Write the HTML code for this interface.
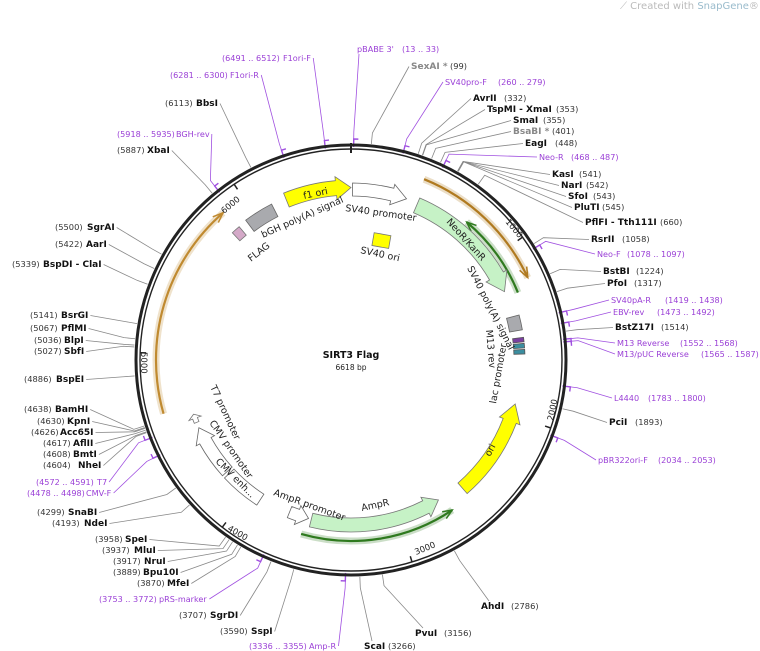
<!DOCTYPE html>
<html><head><meta charset="utf-8"><style>
html,body{margin:0;padding:0;background:#fff;}
svg{display:block;font-family:"DejaVu Sans","Liberation Sans",sans-serif;}
.n{font-weight:bold;font-size:9px;fill:#111;}
.g{font-weight:bold;font-size:9px;fill:#888;}
.c{font-size:8.3px;fill:#333;}
.p{font-size:8.1px;fill:#9a3fd6;}
.f{font-size:9.5px;fill:#222;}
.t{font-size:8.5px;fill:#222;}
</style></head><body>
<svg id="s" width="760" height="651" viewBox="0 0 760 651" xmlns="http://www.w3.org/2000/svg">
<g id="lines"></g>
<g id="feat"></g>
<circle cx="351" cy="360" r="215" fill="none" stroke="#222" stroke-width="3"/>
<circle cx="351" cy="360" r="211" fill="none" stroke="#222" stroke-width="1.4"/>
<line x1="351" y1="143" x2="351" y2="153" stroke="#222" stroke-width="2"/>
<g id="ticks"></g>

<text x="620" y="9" style="font-size:10px;fill:#bbb">⟋ Created with <tspan fill="#9bc">SnapGene</tspan>®</text>

<text x="351" y="358" text-anchor="middle" style="font-size:9.5px;font-weight:bold;fill:#111">SIRT3 Flag</text>
<text x="351" y="370" text-anchor="middle" style="font-size:7.5px;fill:#222">6618 bp</text>

<text class="t" transform="translate(224,214) rotate(-40)">6000</text>
<text class="t" transform="translate(505,222) rotate(50)">1000</text>
<text class="t" transform="translate(141,352) rotate(90)">5000</text>
<text class="t" transform="translate(553,421) rotate(-78)">2000</text>
<text class="t" transform="translate(416,555) rotate(-22)">3000</text>
<text class="t" transform="translate(227,530) rotate(30)">4000</text>

<text class="f" transform="translate(304,199) rotate(-12)">f1 ori</text>
<text class="f" transform="translate(345,211) rotate(8)">SV40 promoter</text>
<text class="f" transform="translate(263,238) rotate(-24)">bGH poly(A) signal</text>
<text class="f" transform="translate(251,262) rotate(-38)">FLAG</text>
<text class="f" transform="translate(360,253) rotate(12)">SV40 ori</text>
<text class="f" transform="translate(446,222) rotate(48)">NeoR/KanR</text>
<text class="f" transform="translate(467,268) rotate(63)">SV40 poly(A) signal</text>
<text class="f" transform="translate(486,330) rotate(85)">M13 rev</text>
<text class="f" transform="translate(496,404) rotate(-80)">lac promoter</text>
<text class="f" transform="translate(490,457) rotate(-62)">ori</text>
<text class="f" transform="translate(210,387) rotate(65)">T7 promoter</text>
<text class="f" transform="translate(209,423) rotate(55)">CMV promoter</text>
<text class="f" transform="translate(215,462) rotate(45)">CMV enh...</text>
<text class="f" transform="translate(273,495) rotate(20)">AmpR promoter</text>
<text class="f" transform="translate(362,511) rotate(-12)">AmpR</text>

<g id="labels">
<text class="L" bp="6491" s="l"><tspan class="p" x="222" y="61">(6491 .. 6512)</tspan><tspan class="p" x="283" y="61">F1ori-F</tspan></text>
<text class="L" bp="13" s="t"><tspan class="p" x="357" y="52">pBABE 3'</tspan><tspan class="p" x="402" y="52">(13 .. 33)</tspan></text>
<text class="L" bp="99" s="r"><tspan class="g" x="411" y="69">SexAI *</tspan><tspan class="c" x="450" y="69">(99)</tspan></text>
<text class="L" bp="260" s="r"><tspan class="p" x="445" y="85">SV40pro-F</tspan><tspan class="p" x="498" y="85">(260 .. 279)</tspan></text>
<text class="L" bp="6281" s="l"><tspan class="p" x="170" y="78">(6281 .. 6300)</tspan><tspan class="p" x="230" y="78">F1ori-R</tspan></text>
<text class="L" bp="6113" s="l"><tspan class="c" x="165" y="106">(6113)</tspan><tspan class="n" x="196" y="106">BbsI</tspan></text>
<text class="L" bp="332" s="r"><tspan class="n" x="473" y="101">AvrII</tspan><tspan class="c" x="504" y="101">(332)</tspan></text>
<text class="L" bp="353" s="r"><tspan class="n" x="487" y="112">TspMI - XmaI</tspan><tspan class="c" x="556" y="112">(353)</tspan></text>
<text class="L" bp="355" s="r"><tspan class="n" x="513" y="123">SmaI</tspan><tspan class="c" x="543" y="123">(355)</tspan></text>
<text class="L" bp="401" s="r"><tspan class="g" x="513" y="134">BsaBI *</tspan><tspan class="c" x="552" y="134">(401)</tspan></text>
<text class="L" bp="448" s="r"><tspan class="n" x="525" y="146">EagI</tspan><tspan class="c" x="555" y="146">(448)</tspan></text>
<text class="L" bp="5918" s="l"><tspan class="p" x="117" y="137">(5918 .. 5935)</tspan><tspan class="p" x="176" y="137">BGH-rev</tspan></text>
<text class="L" bp="5887" s="l"><tspan class="c" x="117" y="153">(5887)</tspan><tspan class="n" x="147" y="153">XbaI</tspan></text>
<text class="L" bp="468" s="r"><tspan class="p" x="539" y="160">Neo-R</tspan><tspan class="p" x="571" y="160">(468 .. 487)</tspan></text>
<text class="L" bp="541" s="r"><tspan class="n" x="552" y="177">KasI</tspan><tspan class="c" x="579" y="177">(541)</tspan></text>
<text class="L" bp="542" s="r"><tspan class="n" x="561" y="188">NarI</tspan><tspan class="c" x="586" y="188">(542)</tspan></text>
<text class="L" bp="543" s="r"><tspan class="n" x="568" y="199">SfoI</tspan><tspan class="c" x="593" y="199">(543)</tspan></text>
<text class="L" bp="545" s="r"><tspan class="n" x="574" y="210">PluTI</tspan><tspan class="c" x="602" y="210">(545)</tspan></text>
<text class="L" bp="660" s="r"><tspan class="n" x="585" y="225">PflFI - Tth111I</tspan><tspan class="c" x="660" y="225">(660)</tspan></text>
<text class="L" bp="1058" s="r"><tspan class="n" x="591" y="242">RsrII</tspan><tspan class="c" x="622" y="242">(1058)</tspan></text>
<text class="L" bp="1078" s="r"><tspan class="p" x="597" y="257">Neo-F</tspan><tspan class="p" x="627" y="257">(1078 .. 1097)</tspan></text>
<text class="L" bp="1224" s="r"><tspan class="n" x="603" y="274">BstBI</tspan><tspan class="c" x="636" y="274">(1224)</tspan></text>
<text class="L" bp="1317" s="r"><tspan class="n" x="607" y="286">PfoI</tspan><tspan class="c" x="634" y="286">(1317)</tspan></text>
<text class="L" bp="1419" s="r"><tspan class="p" x="611" y="303">SV40pA-R</tspan><tspan class="p" x="665" y="303">(1419 .. 1438)</tspan></text>
<text class="L" bp="1473" s="r"><tspan class="p" x="613" y="315">EBV-rev</tspan><tspan class="p" x="657" y="315">(1473 .. 1492)</tspan></text>
<text class="L" bp="1514" s="r"><tspan class="n" x="615" y="330">BstZ17I</tspan><tspan class="c" x="661" y="330">(1514)</tspan></text>
<text class="L" bp="1552" s="r"><tspan class="p" x="617" y="346">M13 Reverse</tspan><tspan class="p" x="680" y="346">(1552 .. 1568)</tspan></text>
<text class="L" bp="1565" s="r"><tspan class="p" x="617" y="357">M13/pUC Reverse</tspan><tspan class="p" x="701" y="357">(1565 .. 1587)</tspan></text>
<text class="L" bp="1783" s="r"><tspan class="p" x="614" y="401">L4440</tspan><tspan class="p" x="648" y="401">(1783 .. 1800)</tspan></text>
<text class="L" bp="1893" s="r"><tspan class="n" x="609" y="425">PciI</tspan><tspan class="c" x="635" y="425">(1893)</tspan></text>
<text class="L" bp="2034" s="r"><tspan class="p" x="598" y="463">pBR322ori-F</tspan><tspan class="p" x="658" y="463">(2034 .. 2053)</tspan></text>

<text class="L" bp="5500" s="l"><tspan class="c" x="55" y="230">(5500)</tspan><tspan class="n" x="87" y="230">SgrAI</tspan></text>
<text class="L" bp="5422" s="l"><tspan class="c" x="55" y="247">(5422)</tspan><tspan class="n" x="86" y="247">AarI</tspan></text>
<text class="L" bp="5339" s="l"><tspan class="c" x="12" y="267">(5339)</tspan><tspan class="n" x="43" y="267">BspDI - ClaI</tspan></text>
<text class="L" bp="5141" s="l"><tspan class="c" x="30" y="318">(5141)</tspan><tspan class="n" x="61" y="318">BsrGI</tspan></text>
<text class="L" bp="5067" s="l"><tspan class="c" x="30" y="331">(5067)</tspan><tspan class="n" x="61" y="331">PflMI</tspan></text>
<text class="L" bp="5036" s="l"><tspan class="c" x="34" y="343">(5036)</tspan><tspan class="n" x="64" y="343">BlpI</tspan></text>
<text class="L" bp="5027" s="l"><tspan class="c" x="34" y="354">(5027)</tspan><tspan class="n" x="64" y="354">SbfI</tspan></text>
<text class="L" bp="4886" s="l"><tspan class="c" x="24" y="382">(4886)</tspan><tspan class="n" x="56" y="382">BspEI</tspan></text>
<text class="L" bp="4638" s="l"><tspan class="c" x="24" y="412">(4638)</tspan><tspan class="n" x="55" y="412">BamHI</tspan></text>
<text class="L" bp="4630" s="l"><tspan class="c" x="37" y="424">(4630)</tspan><tspan class="n" x="67" y="424">KpnI</tspan></text>
<text class="L" bp="4626" s="l"><tspan class="c" x="31" y="435">(4626)</tspan><tspan class="n" x="60" y="435">Acc65I</tspan></text>
<text class="L" bp="4617" s="l"><tspan class="c" x="43" y="446">(4617)</tspan><tspan class="n" x="73" y="446">AflII</tspan></text>
<text class="L" bp="4608" s="l"><tspan class="c" x="43" y="457">(4608)</tspan><tspan class="n" x="73" y="457">BmtI</tspan></text>
<text class="L" bp="4604" s="l"><tspan class="c" x="43" y="468">(4604)</tspan><tspan class="n" x="78" y="468">NheI</tspan></text>
<text class="L" bp="4572" s="l"><tspan class="p" x="36" y="485">(4572 .. 4591)</tspan><tspan class="p" x="97" y="485">T7</tspan></text>
<text class="L" bp="4478" s="l"><tspan class="p" x="27" y="496">(4478 .. 4498)</tspan><tspan class="p" x="86" y="496">CMV-F</tspan></text>
<text class="L" bp="4299" s="l"><tspan class="c" x="37" y="515">(4299)</tspan><tspan class="n" x="68" y="515">SnaBI</tspan></text>
<text class="L" bp="4193" s="l"><tspan class="c" x="52" y="526">(4193)</tspan><tspan class="n" x="84" y="526">NdeI</tspan></text>
<text class="L" bp="3958" s="l"><tspan class="c" x="95" y="542">(3958)</tspan><tspan class="n" x="125" y="542">SpeI</tspan></text>
<text class="L" bp="3937" s="l"><tspan class="c" x="102" y="553">(3937)</tspan><tspan class="n" x="134" y="553">MluI</tspan></text>
<text class="L" bp="3917" s="l"><tspan class="c" x="113" y="564">(3917)</tspan><tspan class="n" x="144" y="564">NruI</tspan></text>
<text class="L" bp="3889" s="l"><tspan class="c" x="113" y="575">(3889)</tspan><tspan class="n" x="143" y="575">Bpu10I</tspan></text>
<text class="L" bp="3870" s="l"><tspan class="c" x="137" y="586">(3870)</tspan><tspan class="n" x="167" y="586">MfeI</tspan></text>
<text class="L" bp="3753" s="l"><tspan class="p" x="99" y="602">(3753 .. 3772)</tspan><tspan class="p" x="159" y="602">pRS-marker</tspan></text>
<text class="L" bp="3707" s="l"><tspan class="c" x="179" y="618">(3707)</tspan><tspan class="n" x="210" y="618">SgrDI</tspan></text>
<text class="L" bp="3590" s="l"><tspan class="c" x="220" y="634">(3590)</tspan><tspan class="n" x="251" y="634">SspI</tspan></text>
<text class="L" bp="3336" s="l"><tspan class="p" x="249" y="649">(3336 .. 3355)</tspan><tspan class="p" x="309" y="649">Amp-R</tspan></text>
<text class="L" bp="3266" s="b"><tspan class="n" x="364" y="649">ScaI</tspan><tspan class="c" x="388" y="649">(3266)</tspan></text>
<text class="L" bp="3156" s="b"><tspan class="n" x="415" y="636">PvuI</tspan><tspan class="c" x="444" y="636">(3156)</tspan></text>
<text class="L" bp="2786" s="b"><tspan class="n" x="481" y="609">AhdI</tspan><tspan class="c" x="511" y="609">(2786)</tspan></text>
</g>
</svg>
<script>
(function(){
var NS="http://www.w3.org/2000/svg",CX=351,CY=360,T=6618;
function pt(r,a){var t=a*Math.PI/180;return [CX+r*Math.sin(t),CY-r*Math.cos(t)];}
function el(g,n,at){var e=document.createElementNS(NS,n);for(var k in at)e.setAttribute(k,at[k]);g.appendChild(e);return e;}
var L=document.getElementById('lines'),F=document.getElementById('feat'),TK=document.getElementById('ticks');
[1000,2000,3000,4000,5000,6000].forEach(function(b){var a=b/T*360,p=pt(211,a),q=pt(205,a);el(TK,'line',{x1:p[0],y1:p[1],x2:q[0],y2:q[1],stroke:'#222','stroke-width':1.5});});
var ls=document.querySelectorAll('.L');
ls.forEach(function(t){
 var bp=+t.getAttribute('bp'),s=t.getAttribute('s'),bb=t.getBBox();
 var purple=t.querySelector('.p')!=null, col=purple?'#a050e0':'#888';
 var a=bp/T*360,p1=pt(217,a),p2=pt(228,a),ax,ay;
 if(s=='r'){ax=bb.x-2;ay=bb.y+bb.height/2;}
 else if(s=='l'){ax=bb.x+bb.width+2;ay=bb.y+bb.height/2;}
 else if(s=='t'){ax=bb.x+2;ay=bb.y+bb.height;}
 else {ax=bb.x+8;ay=bb.y;}
 el(L,'polyline',{points:p1.join(',')+' '+p2.join(',')+' '+ax+','+ay,fill:'none',stroke:col,'stroke-width':0.8});
 if(purple){var q1=pt(213,a),q2=pt(221,a),q3=pt(221,a+1.2);el(L,'polyline',{points:q1.join(',')+' '+q2.join(',')+' '+q3.join(','),fill:'none',stroke:'#a050e0','stroke-width':1.4});}
});
function arc(r,a1,a2){var p=pt(r,a1),q=pt(r,a2),lg=Math.abs(a2-a1)>180?1:0,sw=a2>a1?1:0;return 'M'+p[0]+','+p[1]+' A'+r+','+r+' 0 '+lg+' '+sw+' '+q[0]+','+q[1];}
function band(a1,a2,r1,r2,dir,head,fill,stroke){
 var d,s1=a1,s2=a2;
 if(dir==1)s2=a2-head; if(dir==-1)s1=a1+head;
 var o1=pt(r2,s1),o2=pt(r2,s2),i2=pt(r1,s2),i1=pt(r1,s1),lg=(s2-s1)>180?1:0,rm=(r1+r2)/2;
 d='M'+o1+' A'+r2+','+r2+' 0 '+lg+' 1 '+o2;
 if(dir==1){d+=' L'+pt(r2+4,s2)+' L'+pt(rm,a2)+' L'+pt(r1-4,s2);}
 d+=' L'+i2+' A'+r1+','+r1+' 0 '+lg+' 0 '+i1;
 if(dir==-1){d+=' L'+pt(r1-4,s1)+' L'+pt(rm,a1)+' L'+pt(r2+4,s1);}
 d+=' Z';
 el(F,'path',{d:d,fill:fill,stroke:stroke,'stroke-width':0.8});
}
function line(r,a1,a2,col,dir){
 el(F,'path',{d:arc(r,a1,a2),fill:'none',stroke:col,'stroke-width':7,'stroke-opacity':0.25});
 el(F,'path',{d:arc(r,a1,a2),fill:'none',stroke:col,'stroke-width':2.2});
 var a=dir==1?a2:a1,b=dir==1?a2-3:a1+3;var tip=pt(r,a),u=pt(r+4,b),v=pt(r-4,b);
 el(F,'path',{d:'M'+u+' L'+tip+' L'+v,fill:'none',stroke:col,'stroke-width':1.5});
}
line(195,22,65,'#b07a20',1);
line(195,254,319,'#c08a30',1);
line(180,40,68,'#2f7a1f',-1);
line(181,146,196,'#2f7a1f',-1);
band(23,66,160,176,1,6,'#c6f2c6','#777');
band(0.5,19,164,177,1,5,'#fff','#666');
band(338,360,165,180,1,5,'#ffff00','#777');
band(323,333,161,175,0,0,'#a9aaae','#666');
band(317,320,163,174,0,0,'#d4a9c8','#777');
band(75,80,161,174,0,0,'#a9aaae','#666');
band(82.5,84,163,174,0,0,'#7a3fa0','#555');
band(84.5,86,163,174,0,0,'#3b8ea0','#555');
band(86.5,88,163,174,0,0,'#3b8ea0','#555');
band(105,139,163,177,-1,6,'#ffff00','#777');
band(148,194,158,172,-1,5,'#c6f2c6','#777');
band(195,202,158,170,-1,4,'#fff','#666');
band(213,227,160,173,0,0,'#fff','#666');
band(228,246,160,173,1,5,'#fff','#666');
band(248,251,164,169,1,1.5,'#fff','#777');
el(F,'rect',{x:373,y:234,width:17,height:13,fill:'#ffff00',stroke:'#777','stroke-width':0.8,transform:'rotate(10 381 240)'});
})();
</script>
</body></html>
